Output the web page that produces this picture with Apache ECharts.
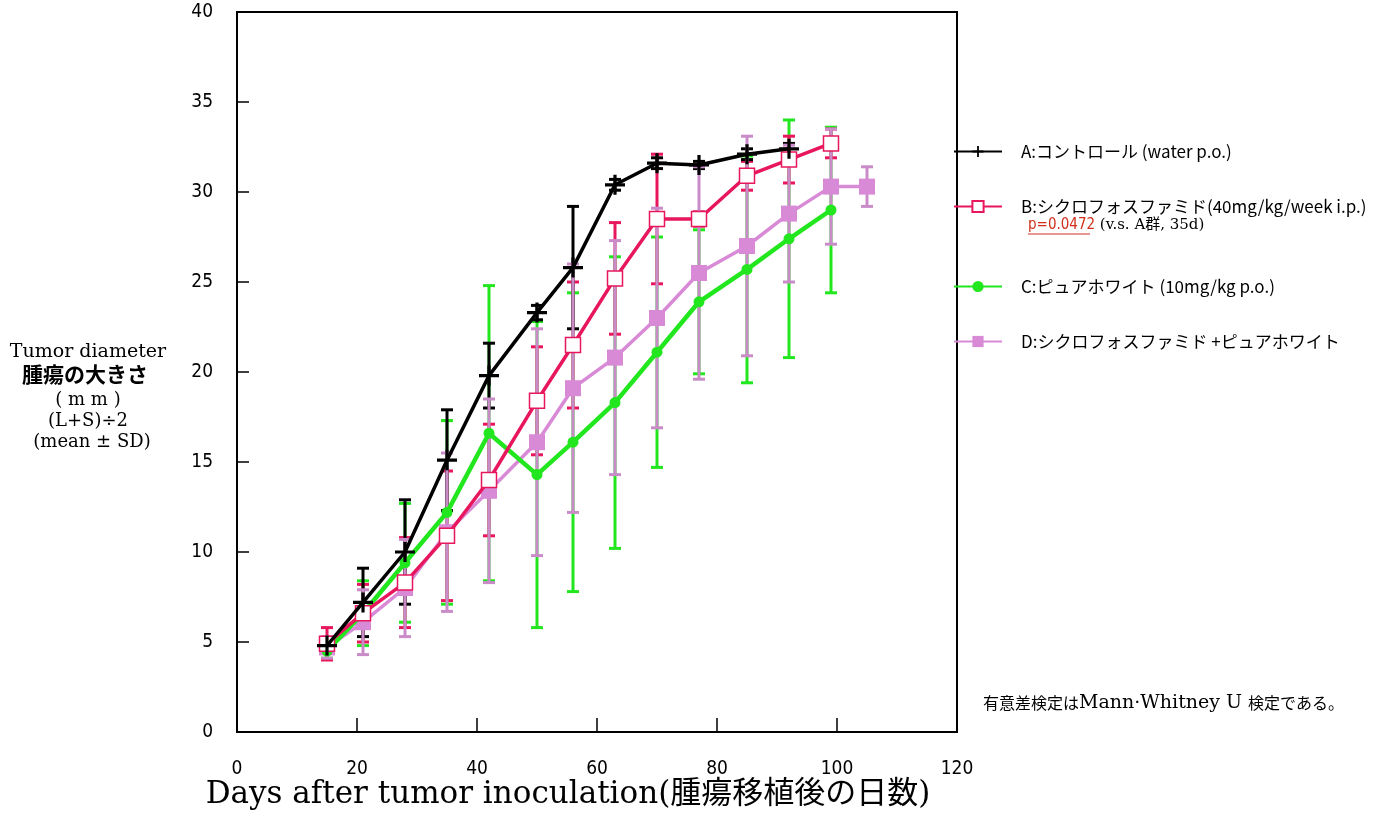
<!DOCTYPE html>
<html><head><meta charset="utf-8">
<script src="https://cdn.jsdelivr.net/npm/echarts@6/dist/echarts.min.js"></script>
<style>html,body{margin:0;padding:0;background:#fff}#c{width:1391px;height:814px}</style>
</head><body><div id="c"></div>
<script>
const days = [15,21,28,35,42,50,56,63,70,77,85,92,99,105];
const nameA = 'A:コントロール (water p.o.)';
const nameB = 'B:シクロフォスファミド(40mg/kg/week i.p.)';
const nameC = 'C:ピュアホワイト (10mg/kg p.o.)';
const nameD = 'D:シクロフォスファミド +ピュアホワイト';
const meanA = [4.8,7.2,10.0,15.1,19.8,23.3,25.8,30.4,31.6,31.5,32.1,32.4,null,null];
const sdA   = [0.4,1.9,2.9,2.8,1.8,0.4,3.4,0.3,0.3,0.2,0.3,0.3,null,null];
const meanB = [4.9,6.6,8.3,10.9,14.0,18.4,21.5,25.2,28.5,28.5,30.9,31.8,32.7,null];
const sdB   = [0.9,1.6,2.5,3.6,3.1,3.0,3.5,3.1,3.6,0.4,0.8,1.3,0.8,null];
const meanC = [4.5,6.6,9.4,12.2,16.6,14.3,16.1,18.3,21.1,23.9,25.7,27.4,29.0,null];
const sdC   = [0.4,1.8,3.3,5.1,8.2,8.5,8.3,8.1,6.4,4.0,6.3,6.6,4.6,null];
const meanD = [4.7,6.1,8.0,11.1,13.4,16.1,19.1,20.8,23.0,25.5,27.0,28.8,30.3,30.3];
const sdD   = [0.6,1.8,2.7,4.4,5.1,6.3,6.9,6.5,6.1,5.9,6.1,3.8,3.2,1.1];
const xTicks = [0,20,40,60,80,100,120];
const yTicks = [0,5,10,15,20,25,30,35,40];

const colA = '#000000', colB = '#e8175d', colC = '#22e61e', colD = '#d98ad6', colDbar = '#c98cc8';

function pts(mean){ return days.map((d,i)=> mean[i]==null ? null : [d, mean[i]]).filter(Boolean); }
function errSeries(id, mean, sd, color, z){
  const data = days.map((d,i)=> mean[i]==null ? null : [d, mean[i]-sd[i], mean[i]+sd[i]]).filter(Boolean);
  return {
    type:'custom', name:id, z:z, data:data, encode:{x:0, y:[1,2]}, silent:true,
    renderItem:function(params, api){
      const x = api.value(0);
      const lo = api.coord([x, api.value(1)]);
      const hi = api.coord([x, api.value(2)]);
      const w = 6;
      return {type:'group', children:[
        {type:'line', shape:{x1:lo[0],y1:lo[1],x2:hi[0],y2:hi[1]}, style:{stroke:color, lineWidth:3}},
        {type:'line', shape:{x1:lo[0]-w,y1:lo[1],x2:lo[0]+w,y2:lo[1]}, style:{stroke:color, lineWidth:3}},
        {type:'line', shape:{x1:hi[0]-w,y1:hi[1],x2:hi[0]+w,y2:hi[1]}, style:{stroke:color, lineWidth:3}}
      ]};
    }
  };
}
const plusPath = 'path://M4.2,0H5.8V4.2H10V5.8H5.8V10H4.2V5.8H0V4.2H4.2Z';
const tickFont = "'DejaVu Sans Condensed','Liberation Sans Narrow',sans-serif";
const jp = "'Noto Sans CJK JP',sans-serif";

const legendTops = [150,205,285,340];
const legendNames = [nameA,nameB,nameC,nameD];

const chart = echarts.init(document.getElementById('c'));
chart.setOption({
  backgroundColor:'#fff',
  animation:false,
  grid:{left:237, right:434, top:12, bottom:82, show:true, borderColor:'#000', borderWidth:2, backgroundColor:'transparent'},
  xAxis:{type:'value', min:0, max:120, interval:20,
    axisLine:{lineStyle:{color:'#000', width:2}},
    axisTick:{inside:true, length:14, lineStyle:{color:'#000', width:1.5}},
    axisLabel:{margin:28, color:'#000', fontSize:19, fontFamily:tickFont},
    splitLine:{show:false}},
  yAxis:{type:'value', min:0, max:40, interval:5,
    axisLine:{lineStyle:{color:'#000', width:2}},
    axisTick:{inside:true, length:12, lineStyle:{color:'#000', width:1.5}},
    axisLabel:{margin:24, color:'#000', fontSize:19, fontFamily:tickFont},
    splitLine:{show:false}},
  legend: legendNames.map((n,i)=>({
    data:[n], left:948, top:legendTops[i]-12, orient:'vertical', selectedMode:false,
    itemWidth:48, itemHeight:14,
    textStyle:{fontSize:17, fontFamily:jp, color:'#000', padding:[0,0,0,14]}
  })),
  series:[
    errSeries('errC', meanC, sdC, colC, 1),
    errSeries('errB', meanB, sdB, colB, 1),
    errSeries('errA', meanA, sdA, colA, 1),
    errSeries('errD', meanD, sdD, colDbar, 1),
    {type:'line', name:nameD, data:pts(meanD), z:3, symbol:'rect', symbolSize:16,
      lineStyle:{color:colD, width:3.5}, itemStyle:{color:colD}},
    {type:'line', name:nameC, data:pts(meanC), z:4, symbol:'circle', symbolSize:11,
      lineStyle:{color:colC, width:4.5}, itemStyle:{color:colC}},
    {type:'line', name:nameB, data:pts(meanB), z:5, symbol:'rect', symbolSize:15,
      lineStyle:{color:colB, width:3.5}, itemStyle:{color:'#ffffff', borderColor:colB, borderWidth:1.5}},
    {type:'line', name:nameA, data:pts(meanA), z:6, symbol:plusPath, symbolSize:20,
      lineStyle:{color:colA, width:3.5}, itemStyle:{color:colA}}
  ],
  graphic:[
    {type:'text', x:568, y:795, style:{text:'Days after tumor inoculation(腫瘍移植後の日数)', font:"31px 'DejaVu Serif', 'Noto Sans CJK JP', serif", fill:'#000', align:'center', verticalAlign:'middle'}},
    {type:'text', x:88, y:352, style:{text:'Tumor diameter', font:"19px 'DejaVu Serif', serif", fill:'#000', align:'center', verticalAlign:'middle'}},
    {type:'text', x:85, y:374, style:{text:'腫瘍の大きさ', font:"bold 21px 'Noto Sans CJK JP', sans-serif", fill:'#000', align:'center', verticalAlign:'middle'}},
    {type:'text', x:88, y:400, style:{text:'( m m )', font:"18px 'DejaVu Serif', 'Noto Sans CJK JP', serif", fill:'#000', align:'center', verticalAlign:'middle'}},
    {type:'text', x:88, y:421, style:{text:'(L+S)÷2', font:"18px 'DejaVu Serif', 'Noto Sans CJK JP', serif", fill:'#000', align:'center', verticalAlign:'middle'}},
    {type:'text', x:92, y:442, style:{text:'(mean ± SD)', font:"18px 'DejaVu Serif', 'Noto Sans CJK JP', serif", fill:'#000', align:'center', verticalAlign:'middle'}},
    {type:'text', x:1028, y:225, style:{
      text:'{p|p=0.0472}{r| (v.s. A群, 35d)}', verticalAlign:'middle',
      rich:{p:{fill:'#d0301c', font:"15px 'DejaVu Sans Condensed','Liberation Sans Narrow',sans-serif"},
            r:{fill:'#000', font:"15px 'DejaVu Serif','Noto Sans CJK JP',serif"}}}},
    {type:'line', shape:{x1:1028, y1:234, x2:1090, y2:234}, style:{stroke:'#d0301c', lineWidth:1.2}},
    {type:'text', x:983, y:703, style:{
      text:'{a|有意差検定は}{b|Mann·Whitney U }{a|検定である。}', verticalAlign:'middle',
      rich:{a:{fill:'#000', font:"16px 'Noto Sans CJK JP', sans-serif"},
            b:{fill:'#000', font:"19px 'DejaVu Serif', serif"}}}}
  ]
});
</script></body></html>
